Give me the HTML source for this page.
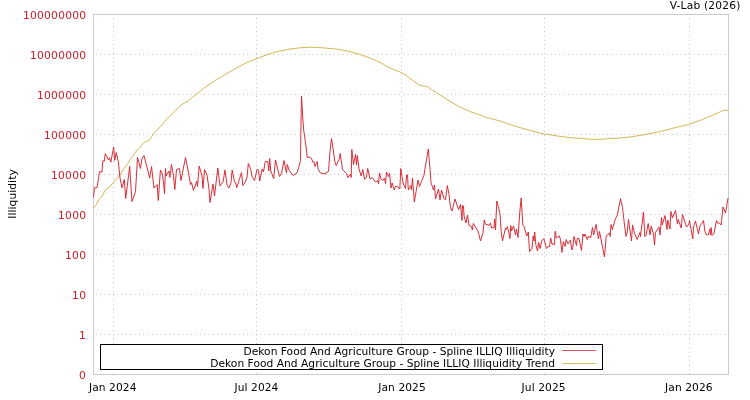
<!DOCTYPE html>
<html><head><meta charset="utf-8"><title>V-Lab</title>
<style>
html,body{margin:0;padding:0;background:#fff;}
svg{display:block;font-family:"DejaVu Sans","Liberation Sans",sans-serif;font-size:10.667px;}
.grid line{stroke:#c0c0c0;stroke-width:1;stroke-dasharray:1 3.333;}
.yl text{fill:#d01c28;}
.xl text,.lg text,.t{fill:#000;}
</style></head><body>
<svg width="750" height="400" viewBox="0 0 750 400">
<rect x="0" y="0" width="750" height="400" fill="#fff"/>
<rect x="93.5" y="14.5" width="635" height="360" fill="none" stroke="#cdcdcd" stroke-width="1" shape-rendering="crispEdges"/>
<g class="grid"><line x1="93" y1="14.5" x2="729" y2="14.5" stroke-dashoffset="-2.67"/><line x1="93" y1="54.5" x2="729" y2="54.5" stroke-dashoffset="-2.67"/><line x1="93" y1="94.5" x2="729" y2="94.5" stroke-dashoffset="-2.67"/><line x1="93" y1="134.5" x2="729" y2="134.5" stroke-dashoffset="-2.67"/><line x1="93" y1="174.5" x2="729" y2="174.5" stroke-dashoffset="-2.67"/><line x1="93" y1="214.5" x2="729" y2="214.5" stroke-dashoffset="-2.67"/><line x1="93" y1="254.5" x2="729" y2="254.5" stroke-dashoffset="-2.67"/><line x1="93" y1="294.5" x2="729" y2="294.5" stroke-dashoffset="-2.67"/><line x1="93" y1="334.5" x2="729" y2="334.5" stroke-dashoffset="-2.67"/><line x1="93" y1="374.5" x2="729" y2="374.5" stroke-dashoffset="-2.67"/><line x1="113.5" y1="18" x2="113.5" y2="374"/><line x1="256.5" y1="18" x2="256.5" y2="374"/><line x1="401.5" y1="18" x2="401.5" y2="374"/><line x1="544.5" y1="18" x2="544.5" y2="374"/><line x1="689.5" y1="18" x2="689.5" y2="374"/></g>
<polyline fill="none" stroke="#ccaa38" stroke-width="0.85" stroke-linejoin="miter" points="93.5,208 96.5,204.5 99.5,198.5 102.5,195.5 105.5,189.5 108.5,188 111,185 114,182.5 116.5,178.5 119,176.5 123,170 127.5,164 130,160 132.5,156.5 137,150 138,149.5 144,142.5 149,140.3 155,132 160,127 166,120 171,115 177,109 182,104.4 188,101 194,96 198,93 204,88 216,80 226,74 238,67 248,62 256,59 266,55 278,51.4 290,49 300,47.8 310,47.2 320,47.6 330,48.4 340,49.6 350,51.6 360,54.4 370,58 380,62.4 392,69 400,72 405,74.4 412,80 420,85.5 427,86.4 432,90 440,95 450,101.4 460,107 470,111.6 480,115 486,117.4 500,121 510,124.4 520,127.6 530,130.4 540,133.2 550,134.8 560,136.4 570,137.6 580,138.4 590,139.2 598,139.4 610,138.6 620,138 630,137 640,135.4 650,133.6 660,131.6 670,129 680,126.4 689,124.4 700,120.4 710,116.4 720,112 723.6,110.4 728,110.4"/>
<polyline fill="none" stroke="#d6242e" stroke-width="0.95" stroke-linejoin="miter" points="93.5,197.5 94.5,187.8 97,187.5 98.5,178.5 99.5,171.5 102,172.2 102.8,160.8 104.3,161.2 105.3,153.7 108.5,160 109.5,157.8 110.8,162.2 113.7,147 114.7,160.5 116.2,152.5 118.3,161.5 120,178 122,187.8 124.3,179.5 125.7,198.5 129.7,166.5 132,201.5 135.5,191.5 137.5,157.5 140.5,168.5 142,158.5 144,155.5 149.7,178 151.5,166.5 154,188 157.2,184.5 158.3,200.5 160.4,170 162,173 163.2,180 164.5,193.5 165.5,168.5 166,176 169,171 169.8,177.5 171.5,164.5 173.5,176 174.8,189.5 176.5,169.5 179.5,168.5 181,180.5 185.5,157.5 188,170 190.5,184.5 191.5,182.5 193.5,190.5 196.8,181 197.5,186.5 199.2,166 202,176 203,188.5 204.5,169.5 207,175 209,189 210,202.5 213,184 214.5,196 217.8,168 220,186 223,182 225,170 227,185 229,188 231,182.5 232.2,170 234.5,182 235.5,182.5 236.8,187.5 241.5,172.5 242.8,185.5 245,182.5 247,177.5 248.3,163.5 250.5,168.5 252,176.5 254.5,180.5 257.2,169 258.5,170.5 259.7,181 262.2,169 263.5,172 265.2,161.5 267.8,161.5 268.8,171 269.7,158.5 270.8,171 273.7,178.5 275.5,160 279.5,176.5 281.5,173.5 284,160.5 286.5,173 287.2,164.5 289.5,171 293,175.5 297,173 299,166.5 300.5,160.5 300.9,130 301.5,96 302.9,120 303.7,130 306.5,150 307.2,157.5 309,157 311.5,158.5 312.8,162 314,161.5 315,166.5 317.2,161.5 318,169 320.5,173 323,173.5 325.5,174 326.2,172.5 328.5,171.5 330,151 331.5,138.5 333,148 334.8,161.5 336.2,165.5 339.5,158.5 340.2,153.5 342.5,169.5 346.5,173.5 347.8,177.5 350.5,174 351.2,177.5 351.8,149.5 353.5,164.5 355.5,154.5 356.5,165 357.3,155.5 359,169 361.2,176 362.8,169.5 364.5,179.5 366.5,177 367.7,168.5 370,179 372.2,177.5 375.5,182 378,180.5 378.5,184 379.5,173 381,179 383,180.5 384.5,178 385.5,183.5 386.5,172 388.5,176.5 389.5,173.5 391,188 392.2,183 394.3,190 395.5,186.5 397.5,186.5 399.8,189 400.8,168.5 403,183 405.5,188.5 406.6,175 407.5,175 408.3,190 410.8,185.5 411.5,190 412.5,178 414.3,202 418,180 419.5,186.5 421.5,181.5 424,175 428.3,149 430.5,175 431,182.5 433.5,190 434.5,185 435.5,199 438.5,189 440,200 441.5,190 444,198.5 445.5,200 447.3,185.5 449,194.5 450.5,207.5 452,211 455,199 458.5,209.5 460.5,204.5 462,220.5 462.5,205.5 463.5,206 464,216 466,223 467.5,215 469,225.5 471.5,226.5 472.3,230 473.3,223.5 478,231 480.5,241 483,232.5 484.3,219.8 485.2,224 489,225.5 490.5,223 491.5,228 494,227.5 494.7,219 495.5,230 496.8,201 499.5,211 500,214 501.2,231.5 502.5,241 505.5,228 506,229.5 507.5,226.5 510,238.5 510.8,225.5 511.5,231 513.5,226 515.5,235 516.5,229 518,237.5 519.8,212 521.2,198 522.8,225 524,226.5 526.8,236 528.3,232 529.5,251.5 532,248.5 533.2,236 534,241 534.7,232 535.8,244.5 537.5,251 538.6,242.5 540.1,248.5 541.6,241 543.8,238.5 546.5,248.5 548.5,246 549.5,247 550.7,238 552,244 554.5,244.5 555,231.5 555.7,231.5 556,238 559.5,236 560.5,240 562,252.5 563.3,241.5 565,246.5 566.2,239.5 568,244 570.5,240 571.7,249.5 572.5,249.5 574,236.5 576.5,245.5 577.2,238.5 579,238.5 581.5,250.5 583,234 584,236.5 585,234 587.2,239.5 588.5,236 590.5,238 592.5,227.5 593.7,235 596,224.5 598.5,239 599.5,231.5 604.5,257 606.2,236 609.5,233 610.2,236.5 611,224.5 612.3,229.5 615.5,218.5 617.2,215.5 620.5,198.5 622.5,207.5 624.5,225 626,236.5 627,233.5 628.5,219.5 631.5,241 632.5,225 634.5,233.5 637.2,239.5 640,232.5 640.5,236.5 641.5,228 643.5,212 644.8,236.5 646,235.5 648.2,223.5 650,235 651.2,226 653.5,234 654.5,245 655.5,232.5 659,227 660,235 661.5,217.5 662.2,225 665,215.5 667,229.5 667.8,220 670,229 670.8,211.5 672.5,218 675.5,210.5 677.5,224 678.2,219.5 681.2,228 682.5,214.5 686.5,227 689,224 689.5,220.5 692.8,239 693.5,227 695.5,221 698.5,234 700,225.5 701.2,224.5 703.5,220.5 705,232 706.5,235 708.5,234.5 709.8,229 710.5,235 711.2,227.5 712,235.5 714,233.5 716.5,220.5 717.5,223 719.5,223 721.2,225 723,207 725.5,213 728,198"/>
<g class="yl"><text x="23" y="19" textLength="63" lengthAdjust="spacing">100000000</text><text x="30" y="59" textLength="56" lengthAdjust="spacing">10000000</text><text x="37" y="99" textLength="49" lengthAdjust="spacing">1000000</text><text x="44" y="139" textLength="42" lengthAdjust="spacing">100000</text><text x="51" y="179" textLength="35" lengthAdjust="spacing">10000</text><text x="58" y="219" textLength="28" lengthAdjust="spacing">1000</text><text x="65" y="259" textLength="21" lengthAdjust="spacing">100</text><text x="72" y="299" textLength="14" lengthAdjust="spacing">10</text><text x="79" y="339" textLength="7" lengthAdjust="spacing">1</text><text x="79" y="379" textLength="7" lengthAdjust="spacing">0</text></g>
<g class="xl"><text x="88.95" y="391" textLength="47.5" lengthAdjust="spacing">Jan 2024</text><text x="234.4" y="391" textLength="44" lengthAdjust="spacing">Jul 2024</text><text x="378.25" y="391" textLength="47.5" lengthAdjust="spacing">Jan 2025</text><text x="521.6" y="391" textLength="44" lengthAdjust="spacing">Jul 2025</text><text x="665.05" y="391" textLength="47.5" lengthAdjust="spacing">Jan 2026</text></g>
<text class="t" x="669.7" y="9" textLength="70.7" lengthAdjust="spacing">V-Lab (2026)</text>
<text class="t" transform="translate(15.9,218.7) rotate(-90)" textLength="49.4" lengthAdjust="spacing">Illiquidity</text>
<g class="lg">
<rect x="100.5" y="344.5" width="502" height="25" fill="#fff" stroke="#000" stroke-width="1" shape-rendering="crispEdges"/>
<text x="243.5" y="355" textLength="311.5" lengthAdjust="spacing">Dekon Food And Agriculture Group - Spline ILLIQ Illiquidity</text>
<text x="210.2" y="367" textLength="344.8" lengthAdjust="spacing">Dekon Food And Agriculture Group - Spline ILLIQ Illiquidity Trend</text>
<line x1="562.3" y1="350.5" x2="595.7" y2="350.5" stroke="#d6242e" stroke-width="0.8"/>
<line x1="562.3" y1="363.5" x2="595.7" y2="363.5" stroke="#ccaa38" stroke-width="0.8"/>
</g>
</svg>
</body></html>
